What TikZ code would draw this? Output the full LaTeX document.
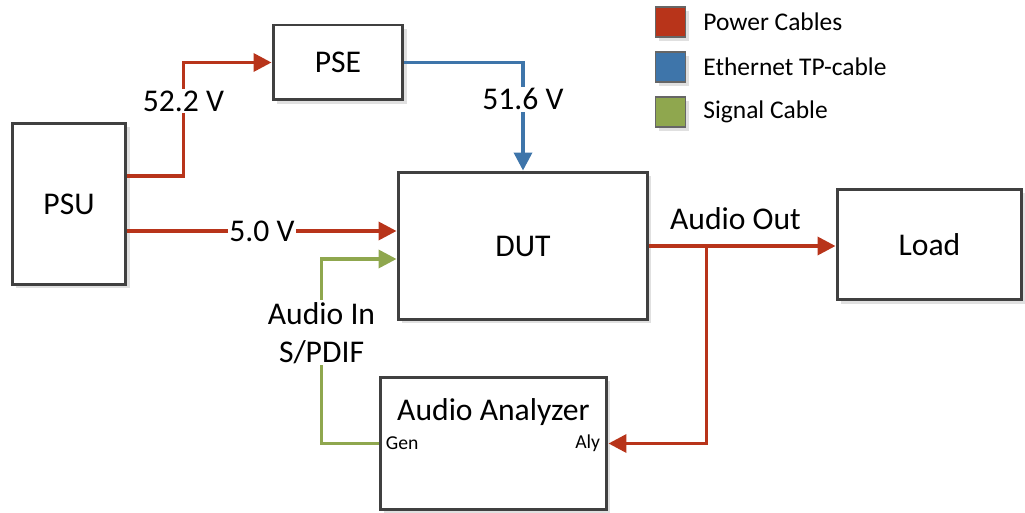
\documentclass[tikz,border=0pt]{standalone}
\usepackage{fontspec}
\setmainfont{Carlito}
\usetikzlibrary{calc, arrows.meta, positioning, shadows}

\definecolor{powerred}{RGB}{184,52,26}
\definecolor{ethblue}{RGB}{62,117,170}
\definecolor{siggreen}{RGB}{143,167,78}
\definecolor{boxgray}{RGB}{64,64,64}

\begin{document}
\begin{tikzpicture}[
						x=0.02cm, y=-0.02cm,
						block/.style = {draw=boxgray, line width=1.7pt, fill=white, rectangle, align=center,
							font=\fontsize{18}{21.6}\selectfont,
							drop shadow={shadow xshift=2pt, shadow yshift=-2pt, fill=black, opacity=0.12}},
						wire/.style = {line width=2pt},
						power/.style = {wire, draw=powerred, -{Triangle[length=0.36cm, width=0.36cm, fill=powerred]}},
						eth/.style = {wire, draw=ethblue, -{Triangle[length=0.36cm, width=0.36cm, fill=ethblue]}},
						signal/.style = {wire, draw=siggreen, -{Triangle[length=0.36cm, width=0.36cm, fill=siggreen]}},
						lbl/.style = {fill=white, inner sep=1pt, align=center, font=\fontsize{18}{21.6}\selectfont},
						port/.style = {inner sep=0pt, font=\fontsize{11.2}{13}\selectfont},
						key/.style = {draw=boxgray!80, line width=0.6pt, minimum size=0.6cm, inner sep=0pt,
							drop shadow={shadow xshift=2pt, shadow yshift=-2pt, fill=black, opacity=0.12}}
					]

					\useasboundingbox (0,0) rectangle (1025,513);

					\node[block, minimum width=2.28cm, minimum height=3.24cm] (psu) at (69,204) {PSU};
					\node[block, minimum width=2.6cm, minimum height=1.5cm] (pse) at (338,62.5) {PSE};
					\node[block, minimum width=5.0cm, minimum height=2.96cm] (dut) at (523,246) {DUT};
					\node[block, minimum width=3.7cm, minimum height=2.22cm] (load) at (929.5,244.5) {Load};
					\node[block, minimum width=4.54cm, minimum height=2.66cm] (ana) at (493.5,443.5) {};
					\node[lbl, fill=none] (anatitle) at (493.5,412) {Audio Analyzer};
					\node[port, anchor=west] (gen) at ($(ana.west)+(7,0)$) {Gen};
					\node[port, anchor=east] (aly) at ($(ana.east)+(-8,0)$) {Aly};

					\draw[power] ($(psu.east)+(0,-28)$) -- ++(56,0) |- node[lbl, pos=0.33] {52.2 V} (pse.west);
					\draw[power] ($(psu.east)+(0,27)$) -- node[lbl, pos=0.5] {5.0 V} ($(dut.west)+(0,-15)$);
					\draw[eth] (pse.east) -| node[lbl, pos=0.67] {51.6 V} (dut.north);
					\draw[signal] (ana.west) -- ++(-57,0) |- node[lbl, pos=0.3] {Audio In\\S/PDIF} ($(dut.west)+(0,13)$);
					\draw[power] (dut.east) -- node[lbl, fill=none, above=7pt, xshift=-4pt] {Audio Out} (dut.east -| load.west);
					\draw[power] ($(dut.east)+(57,0)$) |- (ana.east);

					% legend
					\foreach \col/\txt [count=\i] in {powerred/Power Cables, ethblue/Ethernet TP-cable, siggreen/Signal Cable}{
						\node[key, fill=\col] (key\i) at (670.5,{22+45*(\i-1)}) {};
						\node[right=0.34cm of key\i, inner sep=0pt, font=\fontsize{14.5}{17}\selectfont] (keytxt\i) {\txt};
					}
				\end{tikzpicture}
\end{document}
